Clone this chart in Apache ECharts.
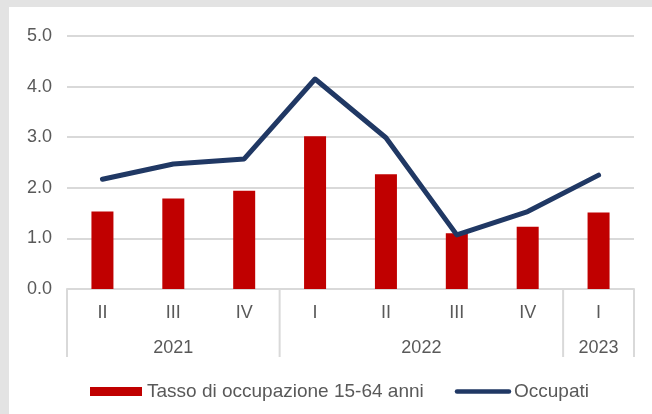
<!DOCTYPE html>
<html>
<head>
<meta charset="utf-8">
<script src="https://cdn.jsdelivr.net/npm/echarts@6/dist/echarts.min.js"></script>
<style>
  html, body { margin: 0; padding: 0; width: 652px; height: 414px; overflow: hidden; background: #e3e3e3; }
  #chart { position: absolute; left: 9px; top: 7px; width: 643px; height: 407px; background: #fff; }
</style>
</head>
<body>
<div id="chart"></div>
<script>
var quarters = ['II', 'III', 'IV', 'I', 'II', 'III', 'IV', 'I'];
var years = ['2021', '2022', '2023'];
var quartersPerYear = [3, 4, 1];
var tassoValues = [1.53, 1.79, 1.94, 3.02, 2.27, 1.10, 1.23, 1.51];
var occupatiValues = [2.17, 2.47, 2.57, 4.15, 2.99, 1.07, 1.53, 2.25];
var seriesNames = ['Tasso di occupazione 15-64 anni', 'Occupati'];

var FONT = 'Liberation Sans, Arial, sans-serif';
var TEXT = '#595959';
var GRID = '#d9d9d9';
var NAVY = '#203864';

var chart = echarts.init(document.getElementById('chart'));

var option = {
  animation: false,
  textStyle: { fontFamily: FONT, color: TEXT },
  grid: { left: 58, right: 18, top: 29, bottom: 125 },
  legend: {
    left: 76,
    top: 370,
    itemWidth: 52,
    itemHeight: 9,
    itemGap: 31,
    textStyle: { fontFamily: FONT, fontSize: 19, color: TEXT },
    data: [
      { name: seriesNames[0], icon: 'rect' },
      {
        name: seriesNames[1],
        itemStyle: { opacity: 0 },
        lineStyle: { color: NAVY, width: 4.5, cap: 'round' }
      }
    ]
  },
  xAxis: {
    type: 'category',
    data: quarters,
    axisLine: { lineStyle: { color: GRID, width: 2 } },
    axisTick: { show: false },
    axisLabel: { color: TEXT, fontSize: 18, margin: 15, fontFamily: FONT }
  },
  yAxis: {
    type: 'value',
    min: 0,
    max: 5,
    interval: 1,
    axisLine: { show: false },
    axisTick: { show: false },
    axisLabel: {
      color: TEXT,
      fontSize: 18,
      margin: 15,
      fontFamily: FONT,
      formatter: function (v) { return v.toFixed(1); }
    },
    splitLine: { lineStyle: { color: GRID, width: 2 } }
  },
  series: [
    {
      name: seriesNames[0],
      type: 'bar',
      barWidth: 22,
      data: tassoValues,
      itemStyle: { color: '#c00000' }
    },
    {
      name: seriesNames[1],
      type: 'line',
      data: occupatiValues,
      symbol: 'none',
      lineStyle: { color: NAVY, width: 5, cap: 'round', join: 'round' },
      itemStyle: { color: NAVY }
    }
  ]
};

chart.setOption(option);

// separatori e etichette degli anni sotto l'asse
function drawYearGroups() {
  var c0 = chart.convertToPixel({ xAxisIndex: 0 }, 0);
  var c1 = chart.convertToPixel({ xAxisIndex: 0 }, 1);
  var band = c1 - c0;
  var y0 = chart.convertToPixel({ yAxisIndex: 0 }, 0);
  var elements = [];
  var start = 0;
  var left = c0 - band / 2;
  elements.push({
    type: 'line', silent: true,
    shape: { x1: left, y1: y0, x2: left, y2: y0 + 68 },
    style: { stroke: GRID, lineWidth: 2 }
  });
  years.forEach(function (year, i) {
    var end = start + quartersPerYear[i];
    var x1 = left + start * band;
    var x2 = left + end * band;
    elements.push({
      type: 'line', silent: true,
      shape: { x1: x2, y1: y0, x2: x2, y2: y0 + 68 },
      style: { stroke: GRID, lineWidth: 2 }
    });
    elements.push({
      type: 'text', silent: true,
      x: (x1 + x2) / 2, y: y0 + 59,
      style: {
        text: year, fill: TEXT, font: '18px ' + FONT,
        align: 'center', verticalAlign: 'middle'
      }
    });
    start = end;
  });
  chart.setOption({ graphic: elements });
}

drawYearGroups();
</script>
</body>
</html>
